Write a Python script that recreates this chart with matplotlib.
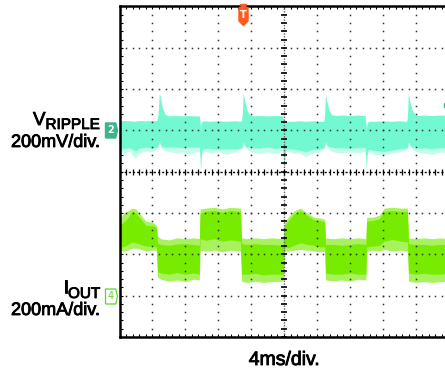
import numpy as np
import matplotlib.pyplot as plt
import matplotlib.patheffects as pe
from matplotlib.path import Path

# scope screen: time in ms (4 ms/div), amplitude in divisions (8 div tall)
# channel 2: output ripple voltage envelope
v_time = [0.0, 0.5, 1.2, 1.9, 2.4, 3.2, 4.0, 4.55,
          4.70, 4.85, 5.00, 5.20, 5.50, 5.90,
          6.8, 7.6, 8.4, 9.2, 9.70,
          9.80, 9.86, 9.95, 10.10,
          11.0, 12.0, 13.0, 14.0, 14.85,
          14.95, 15.05, 15.20, 15.45, 15.80, 16.2,
          17.0, 18.0, 19.0, 19.85,
          19.95, 20.02, 20.10, 20.25,
          21.2, 22.0, 22.6, 23.4, 24.2, 24.85,
          24.95, 25.05, 25.20, 25.45, 25.80, 26.2,
          27.0, 28.0, 29.0, 29.85,
          29.95, 30.02, 30.10, 30.25,
          31.0, 32.0, 33.0, 34.0, 34.95,
          35.05, 35.12, 35.30, 35.55, 35.90, 36.3,
          37.0, 38.0, 39.0, 40.0]
v_top = [1.22, 1.24, 1.23, 1.22, 1.24, 1.23, 1.24, 1.23,
         1.40, 1.91, 1.75, 1.55, 1.40, 1.35,
         1.36, 1.35, 1.36, 1.35, 1.35,
         1.20, 1.00, 1.18, 1.23,
         1.22, 1.23, 1.22, 1.23, 1.22,
         1.45, 1.91, 1.72, 1.52, 1.38, 1.35,
         1.36, 1.35, 1.36, 1.35,
         1.18, 1.05, 1.18, 1.22,
         1.22, 1.23, 1.22, 1.23, 1.22, 1.22,
         1.40, 1.86, 1.70, 1.50, 1.38, 1.36,
         1.37, 1.36, 1.37, 1.36,
         1.18, 1.02, 1.15, 1.22,
         1.22, 1.23, 1.22, 1.23, 1.22,
         1.45, 1.89, 1.70, 1.50, 1.38, 1.36,
         1.37, 1.36, 1.37, 1.36]
v_core_low = [0.58, 0.56, 0.58, 0.50, 0.57, 0.60, 0.57, 0.60,
              0.64, 0.73, 0.66, 0.60, 0.60, 0.60,
              0.60, 0.58, 0.60, 0.59, 0.60,
              0.38, 0.04, 0.43, 0.56,
              0.57, 0.55, 0.56, 0.55, 0.58,
              0.64, 0.73, 0.66, 0.60, 0.60, 0.58,
              0.57, 0.60, 0.56, 0.59,
              0.33, 0.09, 0.43, 0.56,
              0.55, 0.52, 0.48, 0.54, 0.55, 0.58,
              0.64, 0.73, 0.66, 0.60, 0.60, 0.58,
              0.58, 0.57, 0.58, 0.59,
              0.33, 0.07, 0.43, 0.54,
              0.52, 0.49, 0.52, 0.55, 0.58,
              0.64, 0.73, 0.66, 0.60, 0.60, 0.57,
              0.58, 0.56, 0.58, 0.57]
v_spike_low = [0.50, 0.45, 0.50, 0.33, 0.45, 0.50, 0.48, 0.55,
               0.60, 0.70, 0.62, 0.55, 0.50, 0.50,
               0.45, 0.48, 0.42, 0.47, 0.50,
               0.30, 0.00, 0.40, 0.52,
               0.45, 0.50, 0.42, 0.48, 0.55,
               0.60, 0.70, 0.62, 0.55, 0.50, 0.47,
               0.45, 0.48, 0.44, 0.50,
               0.25, 0.08, 0.40, 0.50,
               0.45, 0.45, 0.36, 0.45, 0.48, 0.55,
               0.60, 0.70, 0.62, 0.55, 0.50, 0.47,
               0.45, 0.48, 0.45, 0.50,
               0.25, 0.05, 0.40, 0.50,
               0.42, 0.40, 0.45, 0.48, 0.55,
               0.60, 0.70, 0.62, 0.55, 0.50, 0.47,
               0.45, 0.42, 0.48, 0.45]

# channel 4: load current envelope
i_time = [0.0, 0.5, 1.0, 1.5, 2.0, 2.6, 3.2, 4.0, 4.5,
          4.62, 5.0, 6.0, 7.0, 8.0, 9.0, 9.7,
          9.80, 10.5, 11.5, 12.5, 13.5, 14.7,
          14.85, 15.5, 16.5, 17.5, 18.5, 19.9,
          20.05, 20.5, 21.2, 22.0, 22.8, 23.6, 24.4, 24.95,
          25.05, 26.0, 27.0, 28.0, 29.0, 29.95,
          30.05, 30.8, 31.6, 32.2, 33.2, 34.2, 35.0,
          35.15, 36.0, 37.0, 38.0, 39.0, 40.0]
i_spike_top = [-1.15, -1.00, -0.95, -0.88, -0.90, -1.05, -1.20, -1.22, -1.30,
               -1.55, -1.62, -1.65, -1.60, -1.62, -1.60, -1.62,
               -0.90, -0.88, -0.86, -0.90, -0.86, -0.88,
               -1.60, -1.62, -1.60, -1.62, -1.60, -1.62,
               -1.25, -1.10, -0.95, -0.88, -1.00, -1.10, -1.12, -1.15,
               -1.60, -1.62, -1.60, -1.62, -1.60, -1.62,
               -1.10, -1.10, -1.05, -0.88, -0.86, -0.88, -0.88,
               -1.60, -1.62, -1.60, -1.62, -1.60, -1.62]
i_core_top = [-1.30, -1.22, -1.12, -0.95, -1.00, -1.15, -1.30, -1.30, -1.36,
              -1.72, -1.76, -1.78, -1.75, -1.74, -1.76, -1.78,
              -1.00, -0.96, -0.94, -0.98, -0.94, -0.96,
              -1.74, -1.76, -1.74, -1.76, -1.76, -1.78,
              -1.32, -1.20, -1.02, -0.94, -1.05, -1.16, -1.18, -1.22,
              -1.76, -1.76, -1.78, -1.76, -1.74, -1.76,
              -1.20, -1.18, -1.14, -0.96, -0.94, -0.96, -0.96,
              -1.74, -1.76, -1.76, -1.78, -1.76, -1.76]
i_core_low = [-1.80, -1.82, -1.76, -1.70, -1.72, -1.76, -1.80, -1.80, -1.82,
              -2.42, -2.45, -2.48, -2.44, -2.48, -2.45, -2.48,
              -1.62, -1.66, -1.62, -1.68, -1.65, -1.68,
              -2.48, -2.48, -2.46, -2.50, -2.48, -2.48,
              -1.80, -1.84, -1.78, -1.72, -1.76, -1.78, -1.82, -1.82,
              -2.45, -2.48, -2.48, -2.45, -2.48, -2.48,
              -1.82, -1.80, -1.78, -1.68, -1.64, -1.68, -1.70,
              -2.45, -2.48, -2.46, -2.48, -2.48, -2.45]
i_spike_low = [-1.90, -1.92, -1.90, -1.85, -1.85, -1.88, -1.92, -1.90, -1.90,
               -2.55, -2.60, -2.65, -2.62, -2.66, -2.60, -2.62,
               -1.90, -1.92, -1.90, -1.94, -1.90, -1.92,
               -2.65, -2.68, -2.65, -2.68, -2.66, -2.65,
               -1.92, -1.92, -1.90, -1.88, -1.90, -1.92, -1.94, -1.92,
               -2.62, -2.64, -2.62, -2.65, -2.60, -2.62,
               -1.92, -1.90, -1.92, -1.88, -1.92, -1.90, -1.92,
               -2.65, -2.68, -2.66, -2.68, -2.66, -2.65]

ch2_level = 1.0
ch4_level = -3.0
trigger_time = 15.0

W, H = 445, 371
fig = plt.figure(figsize=(W / 100, H / 100), dpi=100)
ax = fig.add_axes([119.5 / W, 34 / H, 329 / W, 330.5 / H])
ax.set_xlim(0, 40)
ax.set_ylim(-4, 4)

# traces
ax.fill_between(v_time, v_spike_low, v_top, color='#c4fcec', lw=0, zorder=2)
ax.fill_between(v_time, v_core_low, v_top, color='#72f9d1', lw=0, zorder=3)
ax.fill_between(i_time, i_spike_low, i_spike_top, color='#a8f25e', lw=0, zorder=2)
ax.fill_between(i_time, i_core_low, i_core_top, color='#78ec00', lw=0, zorder=3)

# graticule (dots every 1/5 div, drawn over the traces)
minor_x = np.arange(0, 40.01, 0.8)
minor_y = np.arange(-4, 4.01, 0.2)
dot = dict(ls='none', marker='s', ms=1.1, mew=0, color='#333333', zorder=5)
for xv in range(4, 40, 4):
    if xv != 20:
        ax.plot(np.full_like(minor_y, xv), minor_y, **dot)
for yv in range(-3, 4):
    if yv != 0:
        ax.plot(minor_x, np.full_like(minor_x, yv), **dot)
ax.axvline(20, color='#666666', lw=1, ls=(0, (1, 1)), zorder=5)
ax.plot(np.full_like(minor_y, 20), minor_y, ls='none', marker='_', ms=4, mew=1.2, color='k', zorder=6)
ax.axhline(0, color='k', lw=1, ls=(0, (1.5, 1.5)), zorder=5)
ax.plot(minor_x, np.zeros_like(minor_x), ls='none', marker='|', ms=4, mew=0.9, color='k', zorder=6)

for s in ax.spines.values():
    s.set_linewidth(1.8)
    s.set_zorder(7)
ax.set_xticks(minor_x)
ax.set_yticks(minor_y)
ax.tick_params(direction='in', length=2.5, width=0.8, top=True, right=True,
               labelbottom=False, labelleft=False)

# channel ground markers
flag = Path([(-0.4, -0.5), (0.28, -0.5), (0.4, 0), (0.28, 0.5), (-0.4, 0.5), (-0.4, -0.5)])
ax.plot(-1.05, ch2_level, marker=flag, ms=10.8, color='#3db38e', clip_on=False, zorder=8)
ax.text(-1.12, ch2_level, '2', color='white', fontsize=7, fontweight='bold',
        ha='center', va='center', clip_on=False, zorder=9)
ax.plot(-1.05, ch4_level, marker=flag, ms=10.8, mfc='white', mec='#5fd628', mew=0.9,
        clip_on=False, zorder=8)
ax.text(-1.12, ch4_level, '4', color='#5fd628', fontsize=7,
        ha='center', va='center', clip_on=False, zorder=9)
ax.plot(39.75, 1.62, marker='s', ms=3, color='#3db38e', zorder=8)

# trigger position marker
pent = Path([(-0.25, 0.5), (0.25, 0.5), (0.25, -0.25), (0, -0.5), (-0.25, -0.25), (-0.25, 0.5)])
ax.plot(trigger_time, 3.77, marker=pent, ms=13, color='#ff5a1e', clip_on=False, zorder=8)
ax.plot(trigger_time, 4.0, marker='v', ms=4, color='#ff5a1e', clip_on=False, zorder=9)
ax.text(trigger_time, 3.8, 'T', color='white', fontsize=7, fontweight='bold',
        ha='center', va='center', zorder=9)

# labels
def fx(px):
    return px / W

def fy(py):
    return 1 - py / H

font = 'Liberation Sans'
heavy = [pe.withStroke(linewidth=0.6, foreground='black')]
labels = [
    (33, 125, 'V', 13.5, 'left'),
    (45.5, 129, 'RIPPLE', 11, 'left'),
    (100, 147, '200mV/div.', 13, 'right'),
    (63.5, 293, 'I', 13.5, 'left'),
    (68, 298, 'OUT', 11, 'left'),
    (100, 315, '200mA/div.', 13, 'right'),
    (284.5, 365, '4ms/div.', 14, 'center'),
]
for x, y, s, size, ha in labels:
    fig.text(fx(x), fy(y), s, fontsize=size, family=font, ha=ha, va='baseline',
             color='black', path_effects=heavy)

fig.savefig('out.png', dpi=100)
